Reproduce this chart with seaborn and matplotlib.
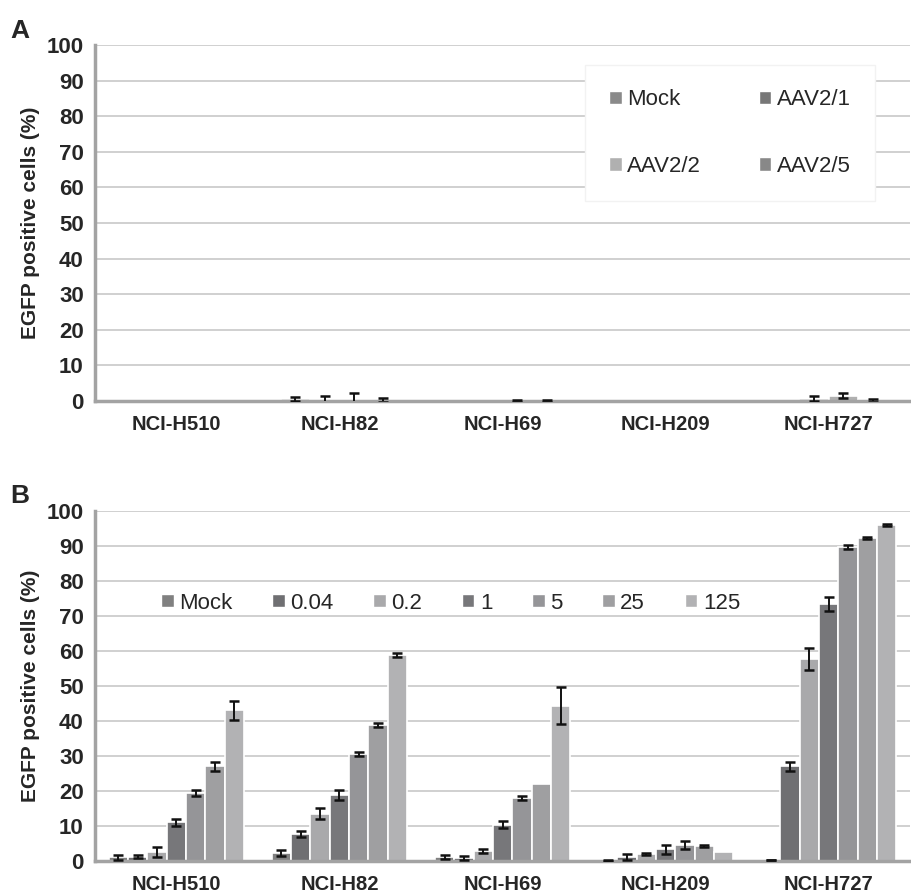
import numpy as np
import pandas as pd
import matplotlib
matplotlib.use('Agg')
import matplotlib.pyplot as plt
from matplotlib.patches import Patch
import seaborn as sns

cell_lines = ['NCI-H510', 'NCI-H82', 'NCI-H69', 'NCI-H209', 'NCI-H727']

# panel A: serotypes
sero = ['Mock', 'AAV2/1', 'AAV2/2', 'AAV2/5']
sero_mean = [
    [0.1, 0.1, 0.1, 0.1],   # NCI-H510
    [0.5, 0.2, 0.3, 0.2],   # NCI-H82
    [0.1, 0.1, 0.1, 0.1],   # NCI-H69
    [0.0, 0.0, 0.0, 0.0],   # NCI-H209
    [0.1, 0.7, 1.5, 0.2],   # NCI-H727
]
sero_err = [
    [0.0, 0.0, 0.0, 0.0],
    [0.5, 1.3, 2.0, 0.6],
    [0.0, 0.0, 0.3, 0.3],
    [0.0, 0.0, 0.0, 0.0],
    [0.0, 0.8, 0.7, 0.5],
]
sero_colors = ['#8a8a8a', '#777777', '#b0b0b0', '#888888']

# panel B: doses
dose = ['Mock', '0.04', '0.2', '1', '5', '25', '125']
dose_mean = [
    [1.0, 1.2, 2.6, 11.0, 19.5, 27.0, 43.0],   # NCI-H510
    [2.3, 7.8, 13.5, 18.8, 30.5, 38.8, 58.8],  # NCI-H82
    [1.2, 0.9, 2.8, 10.4, 17.9, 22.0, 44.3],   # NCI-H69
    [0.2, 1.2, 2.0, 3.3, 4.5, 4.2, 2.7],       # NCI-H209
    [0.3, 27.0, 57.8, 73.5, 89.8, 92.2, 95.9], # NCI-H727
]
dose_err = [
    [0.7, 0.4, 1.4, 1.0, 0.8, 1.3, 2.7],
    [0.8, 0.9, 1.5, 1.4, 0.5, 0.5, 0.6],
    [0.6, 0.6, 0.5, 1.0, 0.6, 0.0, 5.3],
    [0.1, 0.8, 0.3, 1.3, 1.1, 0.3, 0.0],
    [0.1, 1.3, 3.2, 2.0, 0.6, 0.3, 0.3],
]
dose_colors = ['#808080', '#6f6f72', '#a9a9ab', '#77777a', '#959598', '#9f9fa1', '#b2b2b4']

sns.set_theme(style='white')
plt.rcParams['font.family'] = ['Liberation Sans', 'DejaVu Sans']


def long_df(means, errs, groups):
    rows = []
    for i, cl in enumerate(cell_lines):
        for j, g in enumerate(groups):
            rows.append({'cell': cl, 'group': g, 'val': means[i][j], 'err': errs[i][j]})
    return pd.DataFrame(rows)


def draw_panel(ax, df, groups, colors, width, capsize):
    sns.barplot(data=df, x='cell', y='val', hue='group', order=cell_lines,
                hue_order=groups, palette=colors, width=width, errorbar=None,
                edgecolor='white', linewidth=1.2, saturation=1, ax=ax, legend=False)
    bars = list(ax.containers)
    for k, cont in enumerate(bars):
        sub = df[df['group'] == groups[k]].set_index('cell').loc[cell_lines]
        xs = np.array([b.get_x() + b.get_width() / 2 for b in cont])
        hs = np.array([b.get_height() for b in cont])
        e = sub['err'].values
        m = e > 0
        ax.errorbar(xs[m], hs[m], yerr=e[m], fmt='none',
                    ecolor='#111111', elinewidth=1.4, capsize=capsize, capthick=1.8,
                    zorder=4)
    ax.set_ylim(0, 100)
    ax.set_xlim(-0.5, 4.5)
    ax.set_yticks(np.arange(0, 101, 10))
    ax.yaxis.grid(True, color='#c8c8c8', linewidth=1.2)
    ax.set_axisbelow(True)
    for s in ['top', 'right']:
        ax.spines[s].set_visible(False)
    for s in ['left', 'bottom']:
        ax.spines[s].set_color('#a3a3a3')
        ax.spines[s].set_linewidth(2.5)
    ax.set_xlabel('')
    ax.set_ylabel('EGFP positive cells (%)', fontsize=15, fontweight='bold', labelpad=5)
    ax.tick_params(axis='y', length=0, labelsize=16, pad=8)
    ax.tick_params(axis='x', which='major', length=0, labelsize=14.5, pad=10)
    for t in ax.get_yticklabels() + ax.get_xticklabels():
        t.set_fontweight('bold')
    ax.set_xticks(np.arange(-0.5, 5.0, 1.0), minor=True)
    ax.tick_params(axis='x', which='minor', length=5, width=2, color='#a3a3a3', direction='out')


fig = plt.figure(figsize=(9.12, 8.92), dpi=100)
axA = fig.add_axes([0.104, 0.5504, 0.894, 0.3992])
axB = fig.add_axes([0.104, 0.0348, 0.894, 0.3923])

dfA = long_df(sero_mean, sero_err, sero)
dfB = long_df(dose_mean, dose_err, dose)

draw_panel(axA, dfA, sero, sero_colors, 0.72, 3.5)
draw_panel(axB, dfB, dose, dose_colors, 0.83, 3.5)

# row-wise order for a two-column legend
orderA = [0, 2, 1, 3]
hA = [Patch(facecolor=sero_colors[i], edgecolor='white') for i in orderA]
legA = axA.legend(hA, [sero[i] for i in orderA], loc='upper left',
                  bbox_to_anchor=(0.601, 0.944), borderaxespad=0, ncol=2,
                  fontsize=16, frameon=True, fancybox=False, handlelength=0.55,
                  handleheight=0.55, handletextpad=0.25, labelspacing=2.05,
                  columnspacing=2.6, borderpad=1.1)
legA.get_frame().set_edgecolor('#f2f2f2')
legA.get_frame().set_facecolor('white')
legA.get_frame().set_alpha(1)

hB = [Patch(facecolor=c, edgecolor='white') for c in dose_colors]
axB.legend(hB, dose, loc='center left', bbox_to_anchor=(0.057, 0.737), ncol=7,
           fontsize=16, frameon=False, handlelength=0.55, handleheight=0.55,
           handletextpad=0.25, columnspacing=1.8)

fig.text(0.011, 0.957, 'A', fontsize=19, fontweight='bold')
fig.text(0.011, 0.436, 'B', fontsize=19, fontweight='bold')

fig.savefig('out.png', dpi=100)
